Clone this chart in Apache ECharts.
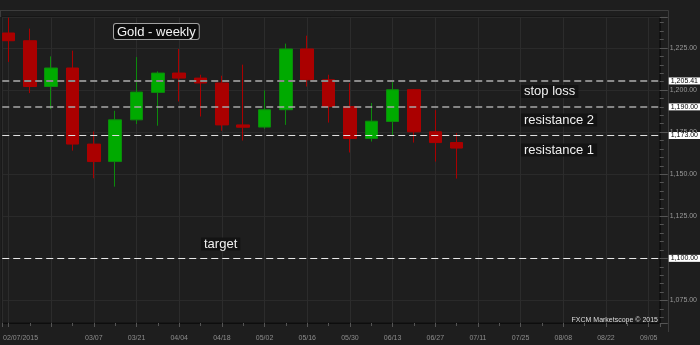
<!DOCTYPE html>
<html><head><meta charset="utf-8">
<script src="https://cdn.jsdelivr.net/npm/echarts@6/dist/echarts.min.js"></script>
<style>html,body{margin:0;padding:0;background:#1e1e1e}#c{width:700px;height:345px}</style>
</head><body><div id="c"></div>
<script>
// Weekly categories (one per week index)
const weeks = ['02/07/2015','02/14','02/21','02/28','03/07','03/14','03/21','03/28','04/04','04/11','04/18','04/25','05/02','05/09','05/16','05/23','05/30','06/06','06/13','06/20','06/27','07/04','07/11','07/18','07/25','08/01','08/08','08/15','08/22','08/29','09/05'];
// Candle values
const opens  = [1233.9,1229.3,1202.1,1213.1,1167.9,1157.5,1182.3,1198.6,1210.1,1207.1,1204.2,1179.3,1178.0,1188.3,1224.4,1206.1,1190.2,1171.2,1181.3,1200.2,1175.2,1168.8];
const closes = [1229.3,1202.1,1213.1,1167.9,1157.5,1182.3,1198.8,1210.1,1207.1,1204.2,1179.3,1177.9,1188.3,1224.4,1206.1,1190.2,1171.2,1181.5,1200.2,1175.2,1168.8,1165.53];
const lows   = [1216.7,1198.2,1188.7,1164.0,1147.6,1142.6,1179.8,1178.8,1193.2,1184.3,1175.8,1170.0,1177.0,1179.3,1202.1,1180.7,1162.9,1169.4,1173.0,1168.8,1157.5,1147.4];
const highs  = [1243.0,1236.5,1220.0,1223.4,1175.4,1187.7,1219.6,1211.1,1224.4,1209.1,1208.5,1215.1,1199.8,1227.6,1232.3,1209.1,1204.1,1192.3,1205.5,1200.5,1188.1,1174.4];
// Horizontal levels
const stopLoss = 1205.41;
const resistance2 = 1190.00;
const resistance1 = 1173.00;
const target = 1100.00;
const lastPrice = 1165.53;
// Axis extents
const yMin = 1061.6, yMax = 1243.4, yStep = 25;
const xMin = -0.294, xMax = 30.52, xStep = 2;

const fmt = v => Number(v).toLocaleString('en-US',{minimumFractionDigits:2,maximumFractionDigits:2});
const candles = opens.map((o,i)=>[i, o, closes[i], lows[i], highs[i]]);

function lvl(v, color, width){
  return {yAxis: v, lineStyle:{color: color, width: width, type:[7,4]},
    label:{show:true, position:'end', distance:9, formatter: ()=>fmt(v), color:'#000', backgroundColor:'#fff', padding:[0,2,0,2], fontSize:7, lineHeight:7, fontFamily:'Liberation Sans'}};
}

const chart = echarts.init(document.getElementById('c'));
const labFont = 'Liberation Sans';
function note(txt, left, top){
  return {type:'text', left:left, top:top, z:50, style:{text:txt, fill:'#f0f0f0', font:'13px "Liberation Sans"', backgroundColor:'#131313', padding:[0,3,0,3], lineHeight:13}};
}
chart.setOption({
  backgroundColor:'#1e1e1e',
  animation:false,
  grid:{left:0, right:40, top:17, bottom:22, show:true, borderColor:'#0f0f0f', borderWidth:1, backgroundColor:'#1e1e1e'},
  xAxis:{type:'value', min:xMin, max:xMax, minInterval:xStep, maxInterval:xStep,
    axisLine:{show:true, onZero:false, lineStyle:{color:'#0d0d0d'}},
    axisTick:{show:true, length:4, lineStyle:{color:'#555'}},
    minorTick:{show:true, splitNumber:2, length:3, lineStyle:{color:'#555'}},
    axisLabel:{color:'#8c8c8c', fontSize:7, fontFamily:labFont, margin:12, showMinLabel:false, showMaxLabel:false,
      formatter:(v)=>{
        const i = Math.round(v);
        if (Math.abs(v-i)>1e-6 || i<0 || i>=weeks.length || i===2) return '';
        return i===0 ? '{first|'+weeks[i]+'}' : weeks[i];
      },
      rich:{first:{padding:[0,0,0,24], fontSize:7, color:'#8c8c8c', fontFamily:labFont}}},
    splitLine:{show:true, lineStyle:{color:'#2c2c2c'}}
  },
  yAxis:{type:'value', position:'right', min:yMin, max:yMax, minInterval:yStep, maxInterval:yStep,
    axisLine:{show:true, onZero:false, lineStyle:{color:'#0f0f0f'}},
    axisTick:{show:true, length:8, lineStyle:{color:'#555'}},
    minorTick:{show:true, splitNumber:5, length:4, lineStyle:{color:'#555'}},
    axisLabel:{color:'#999', fontSize:7, fontFamily:labFont, margin:10, showMinLabel:false, showMaxLabel:false, formatter:v=>fmt(v)},
    splitLine:{show:true, lineStyle:{color:'#2a2a2a'}}
  },
  series:[{
    type:'candlestick', data:candles, encode:{x:0, y:[1,2,3,4]}, barWidth:13, clip:true,
    itemStyle:{color:'#00aa00', color0:'#aa0000', borderColor:'#0c8a0c', borderColor0:'#aa0000', borderWidth:1},
    markLine:{symbol:'none', silent:true, z:10,
      data:[
        lvl(stopLoss,'#8a8a8a',2),
        lvl(resistance2,'#a8a8a8',1.5),
        lvl(resistance1,'#e0e0e0',1.2),
        lvl(target,'#e8e8e8',1),
        {yAxis:lastPrice, lineStyle:{opacity:0, width:0},
          label:{show:true, position:'end', distance:9, formatter:()=>fmt(lastPrice), color:'#0a1a30', backgroundColor:'#3b94e8', padding:[0,2,0,2], fontSize:7, lineHeight:7, fontFamily:labFont}}
      ]}
  }],
  graphic:[
    {type:'polyline', z:1, shape:{points:[[0,10.5],[668.5,10.5],[668.5,332]]}, style:{stroke:'#3c3c3c', fill:null, lineWidth:1}},
    {type:'line', z:1, shape:{x1:0.5,y1:10,x2:0.5,y2:17}, style:{stroke:'#3c3c3c', lineWidth:1}},
    {type:'text', left:113, top:23, z:50, style:{text:'Gold - weekly', fill:'#f2f2f2', font:'13px "Liberation Sans"', backgroundColor:'#0c0c0c', borderColor:'#a0a0a0', borderWidth:1, borderRadius:2, padding:[1,3,0,3], lineHeight:14}},
    note('stop loss', 521, 85),
    note('resistance 2', 521, 113.5),
    note('resistance 1', 521, 143.5),
    note('target', 201, 237.5),
    {type:'text', right:42, top:316.5, z:50, style:{text:'FXCM Marketscope \u00a9 2015', fill:'#dddddd', font:'7px "Liberation Sans"'}}
  ]
});
</script></body></html>
